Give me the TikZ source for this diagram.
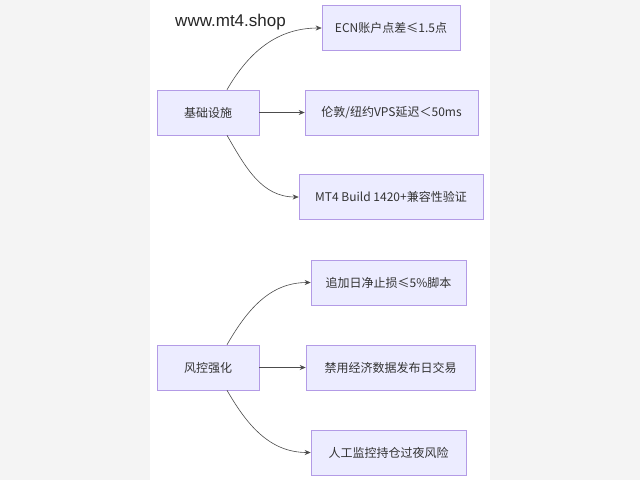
\documentclass[tikz,border=0pt]{standalone}
\usepackage{fontspec}
\newfontfamily\cjk{Noto Sans CJK SC}
\newfontfamily\wmfont{Liberation Sans}
\usetikzlibrary{arrows.meta,positioning}
\definecolor{boxfill}{HTML}{ECECFF}
\definecolor{boxline}{HTML}{9370DB}
\definecolor{pagebg}{HTML}{F4F4F4}
\tikzset{
  box/.style={draw=boxline!70, fill=boxfill, line width=0.6pt, minimum height=45pt, inner xsep=10pt, font=\cjk\fontsize{12pt}{14pt}\selectfont, text=black!80},
  link/.style={-{Stealth[length=6pt,width=5pt]}, draw=black!70, line width=0.6pt}
}
\begin{document}
\begin{tikzpicture}[x=1pt, y=-1pt]
\fill[pagebg] (0,0) rectangle (640,480);
\fill[white] (150,0) rectangle (490,480);
\useasboundingbox (0,0) rectangle (640,480);
\node[font=\wmfont\fontsize{17pt}{19pt}\selectfont, text=black!85] (wm) at (230.5,22) {www.mt4.shop};

% group 1
\node[box, minimum width=102pt] (jc) at (208,112.5) {基础设施};
\node[box, minimum width=138pt] (ecn) at (391,28) {ECN账户点差≤1.5点};
\node[box, minimum width=173pt] (vps) at (391.5,112.5) {伦敦/纽约VPS延迟＜50ms};
\node[box, minimum width=184pt] (mt4) at (391,197) {MT4 Build 1420+兼容性验证};
\draw[link] ([xshift=19pt]jc.north) to[out=60,in=180] (ecn.west);
\draw[link] (jc.east) -- (vps.west);
\draw[link] ([xshift=19pt]jc.south) to[out=-60,in=180] (mt4.west);

% group 2
\node[box, minimum width=102pt] (fk) at (208,367.5) {风控强化};
\node[box, minimum width=155pt] (zj) at (388.5,282.5) {追加日净止损≤5\%脚本};
\node[box, minimum width=169pt] (jy) at (390.5,367.5) {禁用经济数据发布日交易};
\node[box, minimum width=155pt] (rg) at (388.5,452.5) {人工监控持仓过夜风险};
\draw[link] ([xshift=19pt]fk.north) to[out=60,in=180] (zj.west);
\draw[link] (fk.east) -- (jy.west);
\draw[link] ([xshift=19pt]fk.south) to[out=-60,in=180] (rg.west);
\end{tikzpicture}
\end{document}
